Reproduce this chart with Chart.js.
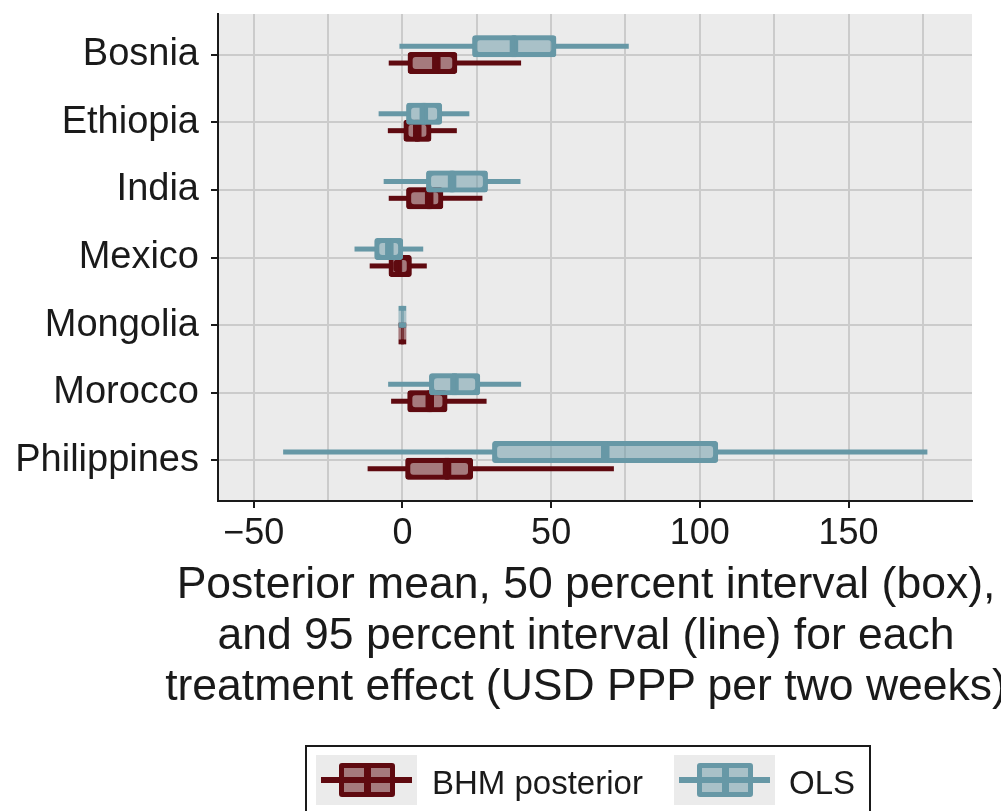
<!DOCTYPE html>
<html>
<head>
<meta charset="utf-8">
<title>Treatment effects: BHM posterior vs OLS</title>
<script src="https://cdn.jsdelivr.net/npm/chart.js@4.4.1/dist/chart.umd.min.js"></script>
<style>
    html, body { margin: 0; padding: 0; background: #fff; overflow: hidden; }
    #wrap { position: relative; width: 1001px; height: 811px; overflow: hidden;
            font-family: 'Liberation Sans', Arial, Helvetica, sans-serif; color: #1a1a1a; }
    #chart { position: absolute; left: 0; top: 0; }
    .xtitle { position: absolute; left: 86px; width: 1000px; top: 557px;
              font-size: 44.5px; line-height: 51px; text-align: center; white-space: nowrap; }
    .legend {
        position: absolute; left: 305px; top: 745px; width: 566px; height: 110px;
        border: 2px solid #1a1a1a; box-sizing: border-box;
    }
    .key { position: absolute; top: 8px; width: 101px; height: 50px; background: #ebebeb; }
    .key .wh { position: absolute; left: 5px; width: 91px; top: 22px; height: 5.5px; }
    .key .bx { position: absolute; left: 23px; top: 8px; width: 55.5px; height: 34px;
               border: 5px solid; border-radius: 3px; box-sizing: border-box; }
    .key .md { position: absolute; left: 19.5px; width: 7px; top: 0; bottom: 0; }
    .label { position: absolute; top: 19px; font-size: 33px; line-height: 33px; white-space: nowrap; }
</style>
</head>
<body>
<div id="wrap">
    <canvas id="chart" width="1001" height="811"></canvas>
    <div class="xtitle" id="xtitle"></div>
    <div class="legend" id="legend"></div>
</div>
<script>
// Countries, top to bottom
const countries = ['Bosnia', 'Ethiopia', 'India', 'Mexico', 'Mongolia', 'Morocco', 'Philippines'];

// BHM posterior: 95% interval (line), 50% interval (box), posterior mean
const bhmLow  = [-4.6, -4.9, -4.6, -11.0, -0.5, -3.8, -11.7];
const bhmQ25  = [ 2.6,  1.2,  2.1,  -3.8, -0.5,  2.5,   1.8];
const bhmMid  = [11.4,  5.0,  9.0,  -1.6,  0.0,  9.2,  15.0];
const bhmQ75  = [17.6,  8.9, 12.9,   2.3,  0.5, 14.3,  22.9];
const bhmHigh = [39.9, 18.3, 26.9,   8.2,  0.5, 28.3,  71.1];

// OLS estimates
const olsLow  = [-1.0, -8.0, -6.3, -16.1, -0.5, -4.8, -40.1];
const olsQ25  = [24.3,  2.1,  8.8,  -8.6, -0.5,  9.8,  31.0];
const olsMid  = [37.5,  7.2, 16.7,  -4.4,  0.0, 17.5,  68.2];
const olsQ75  = [50.9, 12.5, 27.9,  -0.6,  0.5, 25.3, 105.3];
const olsHigh = [76.1, 22.5, 39.7,   7.0,  0.5, 39.9, 176.5];

// x axis: grid every 25, labels every 50
const xTickValues = [-50, -25, 0, 25, 50, 75, 100, 125, 150, 175];
const xTickLabels = ['\u221250', '', '0', '', '50', '', '100', '', '150', ''];

const xTitle = [
    'Posterior mean, 50 percent interval (box),',
    'and 95 percent interval (line) for each',
    'treatment effect (USD PPP per two weeks)'
];

const FONT = "'Liberation Sans', Arial, Helvetica, sans-serif";
const INK = '#1a1a1a';
const GRID = '#cbcbcb';
const PANEL = '#ebebeb';

const BHM = { name: 'BHM posterior', line: '#5f0a10', fill: 'rgba(95, 10, 16, 0.5)', shift: 0.125 };
const OLS = { name: 'OLS', line: '#6798a6', fill: 'rgba(103, 152, 166, 0.5)', shift: -0.125 };

// whiskers drawn as two pieces so they don't show through the translucent box
const whiskerSet = (s, low, q25, q75, high, order) => ({
    label: s.name + ' 95%',
    order,
    grouped: false,
    barThickness: 5,
    inflateAmount: 0,
    borderWidth: 0,
    backgroundColor: s.line,
    data: countries.flatMap((c, i) => [
        { y: i + s.shift, x: [low[i], q25[i]] },
        { y: i + s.shift, x: [q75[i], high[i]] }
    ])
});

// one half of the box; the thicker inner edges make the median bar
const boxHalf = (s, from, to, side, order) => ({
    label: s.name + ' 50% ' + side,
    order,
    grouped: false,
    barThickness: 17,
    inflateAmount: 2.5,
    borderSkipped: false,
    borderWidth: side === 'lo'
        ? { top: 0.01, bottom: 0.01, left: 0.01, right: 1.75 }
        : { top: 0.01, bottom: 0.01, left: 1.75, right: 0.01 },
    borderRadius: side === 'lo'
        ? { topLeft: 3, bottomLeft: 3, topRight: 0, bottomRight: 0 }
        : { topLeft: 0, bottomLeft: 0, topRight: 3, bottomRight: 3 },
    borderColor: s.line,
    backgroundColor: s.fill,
    data: countries.map((c, i) => ({ y: i + s.shift, x: [from[i], to[i]] }))
});

const panelBackground = {
    id: 'panelBackground',
    beforeDraw(chart) {
        const { ctx, chartArea: a } = chart;
        ctx.save();
        ctx.fillStyle = PANEL;
        ctx.fillRect(a.left, a.top, a.right - a.left, a.bottom - a.top);
        ctx.restore();
    }
};

new Chart(document.getElementById('chart'), {
    type: 'bar',
    data: {
        datasets: [
            boxHalf(OLS, olsQ25, olsMid, 'lo', 0),
            boxHalf(OLS, olsMid, olsQ75, 'hi', 0),
            whiskerSet(OLS, olsLow, olsQ25, olsQ75, olsHigh, 1),
            boxHalf(BHM, bhmQ25, bhmMid, 'lo', 2),
            boxHalf(BHM, bhmMid, bhmQ75, 'hi', 2),
            whiskerSet(BHM, bhmLow, bhmQ25, bhmQ75, bhmHigh, 3)
        ]
    },
    options: {
        indexAxis: 'y',
        responsive: false,
        animation: false,
        layout: { padding: { top: 14, right: 29, bottom: 0, left: 0 } },
        plugins: {
            legend: { display: false },
            tooltip: { enabled: false }
        },
        scales: {
            x: {
                type: 'linear',
                min: -62, max: 191.5,
                afterBuildTicks: (s) => { s.ticks = xTickValues.map(v => ({ value: v })); },
                afterFit: (s) => { s.height = 310; s.paddingLeft = 0; s.paddingRight = 0; },
                ticks: {
                    autoSkip: false, maxRotation: 0, padding: 4,
                    color: INK, font: { family: FONT, size: 36 },
                    callback: (v, i) => xTickLabels[i]
                },
                grid: {
                    color: GRID, lineWidth: 2, tickLength: 7, tickWidth: 2,
                    tickColor: (c) => (c.tick && xTickLabels[xTickValues.indexOf(c.tick.value)]) ? INK : 'rgba(0,0,0,0)'
                },
                border: { color: INK, width: 2 }
            },
            y: {
                type: 'linear',
                reverse: true,
                offset: false,
                min: -0.6, max: 6.6,
                afterBuildTicks: (s) => { s.ticks = countries.map((c, i) => ({ value: i })); },
                afterFit: (s) => { s.width = 218; s.paddingTop = 0; s.paddingBottom = 0; },
                ticks: {
                    autoSkip: false, padding: 12,
                    color: INK, font: { family: FONT, size: 38 },
                    callback: (v, i) => countries[i]
                },
                grid: { offset: false, color: GRID, lineWidth: 2, tickLength: 7, tickWidth: 2, tickColor: INK },
                border: { color: INK, width: 2 }
            }
        }
    },
    plugins: [panelBackground]
});

// Axis title: wider than the panel in the original, so it sits in the page
const titleBox = document.getElementById('xtitle');
xTitle.forEach(line => {
    const d = document.createElement('div');
    d.textContent = line;
    titleBox.appendChild(d);
});

// Legend: one boxed key per series, same glyph as the marks
const legend = document.getElementById('legend');
[[BHM, 9, 125], [OLS, 367, 482]].forEach(([s, keyLeft, textLeft]) => {
    const key = document.createElement('div');
    key.className = 'key';
    key.style.left = keyLeft + 'px';
    key.innerHTML =
        `<div class="wh" style="background:${s.line}"></div>` +
        `<div class="bx" style="border-color:${s.line};background:${s.fill}">` +
        `<div class="md" style="background:${s.line}"></div></div>`;
    const label = document.createElement('div');
    label.className = 'label';
    label.style.left = textLeft + 'px';
    label.textContent = s.name;
    legend.appendChild(key);
    legend.appendChild(label);
});
</script>
</body>
</html>
